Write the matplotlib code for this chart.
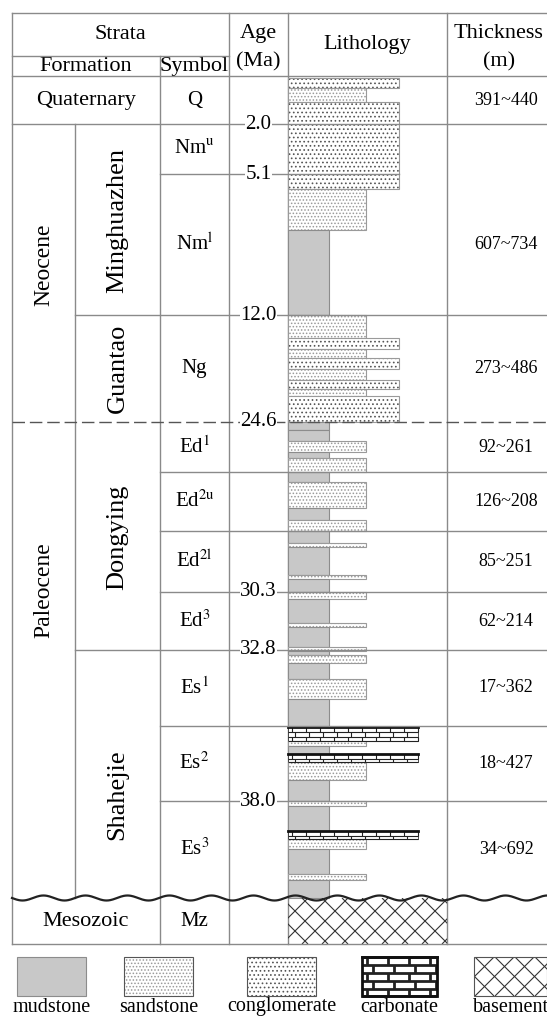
import numpy as np
import matplotlib
matplotlib.use("Agg")
import matplotlib.pyplot as plt
from matplotlib.patches import Rectangle
from matplotlib.collections import LineCollection

plt.rcParams["font.family"] = ["Liberation Serif", "DejaVu Serif"]
plt.rcParams["mathtext.fontset"] = "stix"
plt.rcParams["hatch.linewidth"] = 0.7

# ---- chart data (depth runs downwards, in column units) ----
UNIT_SYMBOLS = ["Q", r"Nm$^{\mathrm{u}}$", r"Nm$^{\mathrm{l}}$", "Ng",
                r"Ed$^{1}$", r"Ed$^{2\mathrm{u}}$", r"Ed$^{2\mathrm{l}}$", r"Ed$^{3}$",
                r"Es$^{1}$", r"Es$^{2}$", r"Es$^{3}$", "Mz"]
UNIT_TOPS = [76, 124, 174, 315, 422, 472, 531, 592, 650, 726, 801, 898]
UNIT_BASES = [124, 174, 315, 422, 472, 531, 592, 650, 726, 801, 898, 944]
THICKNESS = ["391~440", "", "607~734", "273~486", "92~261", "126~208",
             "85~251", "62~214", "17~362", "18~427", "34~692", ""]

FORMATIONS = ["Minghuazhen", "Guantao", "Dongying", "Shahejie"]
FORMATION_LABEL_AT = [220, 368, 537, 795]

SERIES = ["Neocene", "Paleocene"]
SERIES_LABEL_AT = [265, 590]

AGES = ["2.0", "5.1", "12.0", "24.6", "30.3", "32.8", "38.0"]
AGE_DEPTHS = [124, 174, 315, 422, 592, 650, 801]

LITH_ROCKS = ["cong", "sand", "cong", "sand", "mud",
              "sand", "cong", "sand", "cong", "sand", "cong", "sand", "cong",
              "mud", "mud", "sand", "mud", "sand",
              "mud", "sand", "mud", "sand",
              "mud", "sand", "mud", "sand", "mud",
              "sand", "mud", "sand", "mud", "sand", "mud", "sand", "mud", "sand",
              "mud", "carb", "sand", "mud", "carb", "sand", "mud",
              "sand", "mud", "carb", "sand", "mud", "sand", "mud", "base"]
LITH_TOPS = [78, 88, 102, 189, 230,
             315, 338, 349, 358, 369, 380, 389, 396,
             422, 430, 441, 452, 458,
             472, 482, 508, 520,
             531, 543, 547, 575, 579,
             592, 599, 623, 627, 647, 651, 655, 663, 679,
             699, 727, 741, 746, 754, 762, 780,
             801, 806, 831, 839, 849, 874, 880, 898]
LITH_BASES = LITH_TOPS[1:] + [944]

LEGEND_ROCKS = ["mud", "sand", "cong", "carb", "base"]
LEGEND_NAMES = ["mudstone", "sandstone", "conglomerate", "carbonate", "basement"]

# ---- styles ----
COL_X = dict(left=12, split=75, symbol=160, age=229, lith=288, thick=447, right=547)
ROCK_RIGHT = dict(mud=328.5, sand=365.5, cong=399, carb=418, base=447)
LINE = "#8a8a8a"
MUD = "#c8c8c8"

fig = plt.figure(figsize=(5.47, 10.19), dpi=100)
ax = fig.add_axes([0, 0, 1, 1])
ax.set_xlim(0, 547)
ax.set_ylim(1019, 0)
ax.axis("off")


def draw_bricks(x0, x1, y0, y1, bw, bh, lw, top_lw):
    ax.add_patch(Rectangle((x0, y0), x1 - x0, y1 - y0, facecolor="white",
                           edgecolor="#333333", lw=0.6, zorder=3))
    segs = []
    y, row = y0, 0
    while y < y1 - 0.5:
        yb = min(y + bh, y1)
        segs.append([(x0, yb), (x1, yb)])
        xv = x0 + (bw / 2 if row % 2 else bw * 0.25)
        while xv < x1:
            segs.append([(xv, y), (xv, yb)])
            xv += bw
        y, row = yb, row + 1
    ax.add_collection(LineCollection(segs, colors="#222222", linewidths=lw, zorder=4))
    ax.plot([x0, x1], [y0, y0], color="#111111", lw=top_lw, zorder=4)


def draw_cross(x0, x1, y0, y1, step):
    rect = Rectangle((x0, y0), x1 - x0, y1 - y0, facecolor="white", edgecolor="none", zorder=2)
    ax.add_patch(rect)
    h = y1 - y0
    segs = []
    for c in np.arange(x0 - h, x1 + h, step):
        segs.append([(c, y0), (c + h, y1)])
        segs.append([(c, y1), (c + h, y0)])
    lc = LineCollection(segs, colors="#333333", linewidths=0.8, zorder=3)
    ax.add_collection(lc)
    lc.set_clip_path(rect)


def draw_rock(rock, x0, x1, y0, y1, legend=False):
    if rock == "mud":
        ax.barh((y0 + y1) / 2, x1 - x0, height=y1 - y0, left=x0, color=MUD,
                edgecolor="#8c8c8c", lw=0.8, zorder=3)
    elif rock in ("sand", "cong"):
        hatch = "....." if rock == "sand" else "...."
        hc = "#9a9a9a" if rock == "sand" else "#555555"
        ax.barh((y0 + y1) / 2, x1 - x0, height=y1 - y0, left=x0, color="white",
                edgecolor=hc, hatch=hatch, lw=0, zorder=3)
        ax.barh((y0 + y1) / 2, x1 - x0, height=y1 - y0, left=x0, color="none",
                edgecolor="#9a9a9a" if not legend else "#555555", lw=0.8, zorder=3)
    elif rock == "carb":
        if legend:
            draw_bricks(x0, x1, y0, y1, 21, 8, 2.0, 2.0)
            ax.add_patch(Rectangle((x0, y0), x1 - x0, y1 - y0, facecolor="none",
                                   edgecolor="#111111", lw=2.0, zorder=5))
        else:
            draw_bricks(x0, x1, y0, y1, 14, 5, 0.8, 2.0)
    elif rock == "base":
        draw_cross(x0, x1, y0, y1, 20)
        if legend:
            ax.add_patch(Rectangle((x0, y0), x1 - x0, y1 - y0, facecolor="none",
                                   edgecolor="#555555", lw=0.8, zorder=5))


# ---- lithology column ----
for rock, top, base in zip(LITH_ROCKS, LITH_TOPS, LITH_BASES):
    draw_rock(rock, COL_X["lith"], ROCK_RIGHT[rock], top, base)

# ---- table grid ----
L, R = COL_X["left"], COL_X["right"]
hl = [(12.6, L, R), (56, L, COL_X["age"]), (76, L, R), (124, L, R),
      (174, COL_X["symbol"], ROCK_RIGHT["cong"]), (315, COL_X["split"], R),
      (472, COL_X["symbol"], R), (531, COL_X["symbol"], R), (592, COL_X["symbol"], R),
      (650, COL_X["split"], R), (726, COL_X["symbol"], R), (801, COL_X["symbol"], R),
      (944, L, R)]
for y, x0, x1 in hl:
    ax.plot([x0, x1], [y, y], color=LINE, lw=1.0, zorder=5)
vl = [(L, 12.6, 944), (COL_X["split"], 124, 898), (COL_X["symbol"], 56, 944),
      (COL_X["age"], 12.6, 944), (COL_X["lith"], 12.6, 944), (COL_X["thick"], 12.6, 944)]
for x, y0, y1 in vl:
    ax.plot([x, x], [y0, y1], color=LINE, lw=1.0, zorder=2)

# dashed series boundary
ax.plot([L, R], [422, 422], color="#555555", lw=1.0, dashes=(9, 3.5), zorder=6)

# unconformity
xs = np.linspace(L, R, 600)
ax.plot(xs, 898 + 2.5 * np.sin((xs - L) / 42 * 2 * np.pi), color="#222222", lw=1.6, zorder=7)

# ---- header ----
fs = 16
ax.text(120, 34, "Strata", ha="center", va="center", fontsize=fs)
ax.text(86, 66, "Formation", ha="center", va="center", fontsize=fs)
ax.text(194.5, 66, "Symbol", ha="center", va="center", fontsize=fs)
ax.text(258.5, 33, "Age", ha="center", va="center", fontsize=fs)
ax.text(258.5, 62, "(Ma)", ha="center", va="center", fontsize=fs)
ax.text(367, 44, "Lithology", ha="center", va="center", fontsize=fs)
ax.text(499, 33, "Thickness", ha="center", va="center", fontsize=fs)
ax.text(499, 62, "(m)", ha="center", va="center", fontsize=fs)

# ---- body text ----
ax.text(86, 100, "Quaternary", ha="center", va="center", fontsize=fs)
ax.text(86, 921, "Mesozoic", ha="center", va="center", fontsize=fs)
for name, yc in zip(SERIES, SERIES_LABEL_AT):
    ax.text(43.5, yc, name, rotation=90, ha="center", va="center", fontsize=17)
for name, yc in zip(FORMATIONS, FORMATION_LABEL_AT):
    ax.text(117.5, yc, name, rotation=90, ha="center", va="center", fontsize=19)
for sym, thk, top, base in zip(UNIT_SYMBOLS, THICKNESS, UNIT_TOPS, UNIT_BASES):
    yc = (top + base) / 2
    ax.text(194.5, yc, sym, ha="center", va="center", fontsize=15)
    if thk:
        ax.text(506, yc, thk, ha="center", va="center", fontsize=13)
for lab, d in zip(AGES, AGE_DEPTHS):
    ax.text(258.5, d, lab, ha="center", va="center", fontsize=15, zorder=8,
            bbox=dict(facecolor="white", edgecolor="none", pad=0.5))

# ---- legend ----
LEG_X = [17, 124, 247, 362, 474]
LEG_W = [69, 69, 69, 75, 73]
for rock, name, x, w in zip(LEGEND_ROCKS, LEGEND_NAMES, LEG_X, LEG_W):
    draw_rock(rock, x, x + w, 957, 996, legend=True)
    ax.text(x + w / 2, 1007, name, ha="center", va="center", fontsize=14.5)

fig.savefig("out.png", dpi=100)
